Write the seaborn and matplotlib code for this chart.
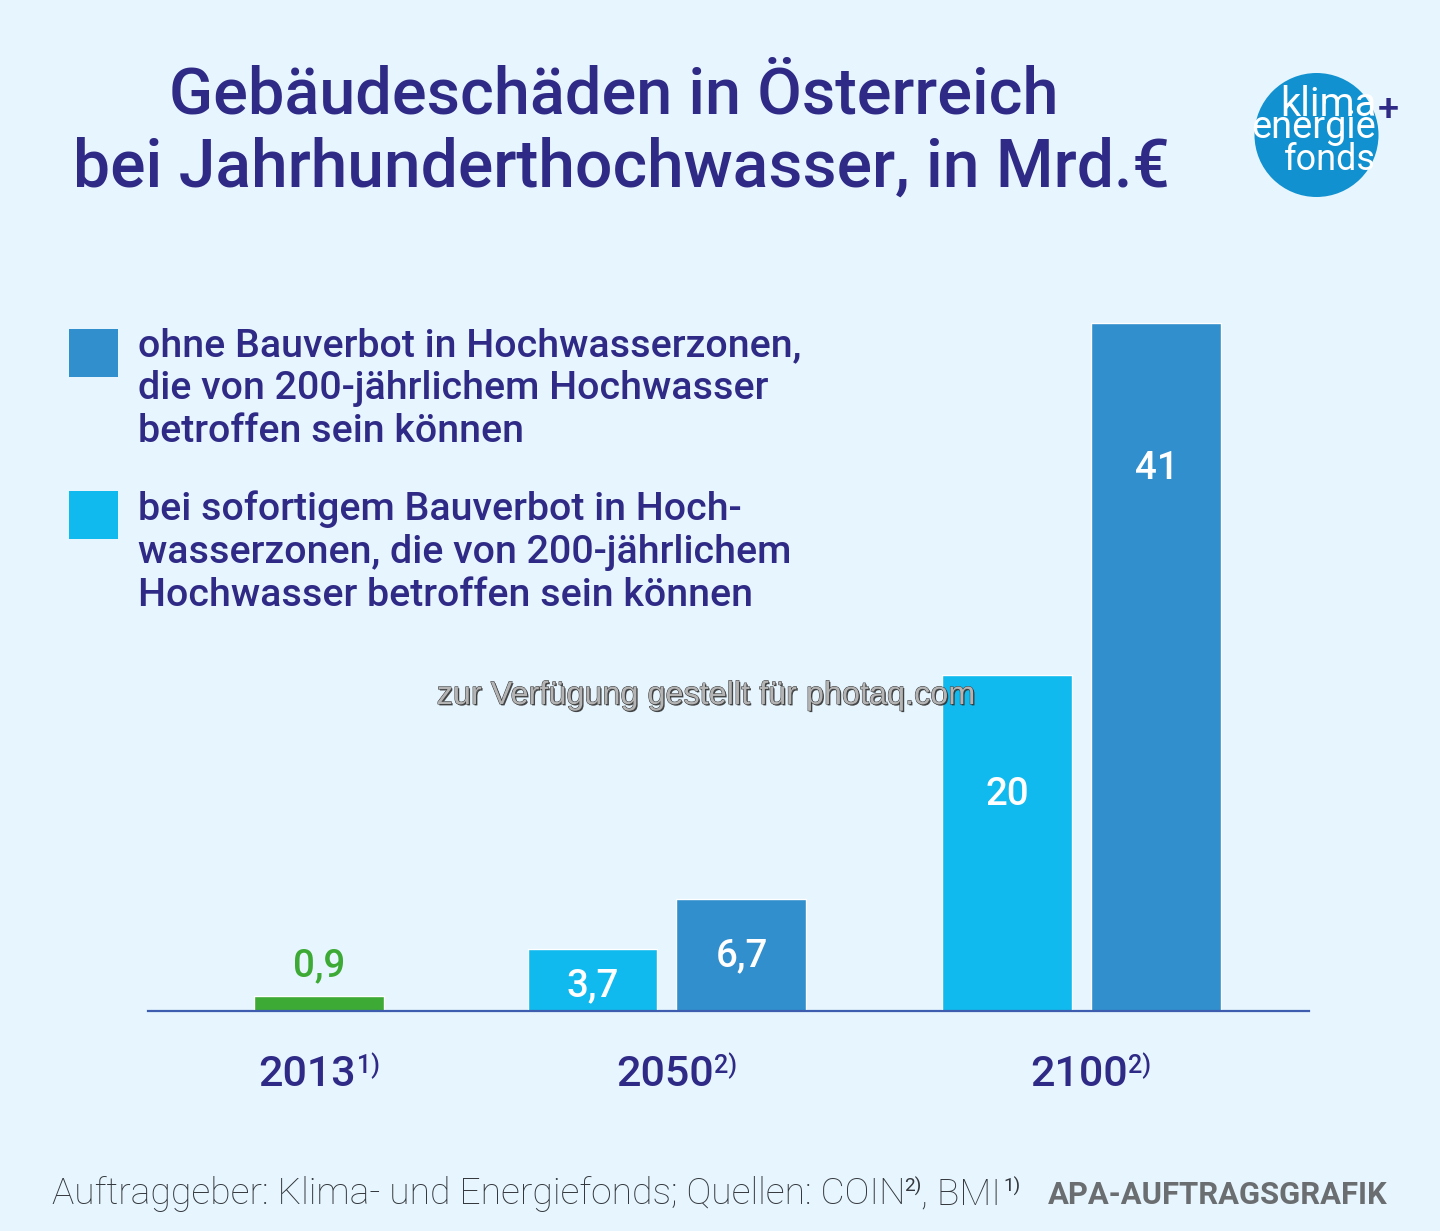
"""Gebaeudeschaeden bei Jahrhunderthochwasser, nach Jahr und Szenario."""

import matplotlib
matplotlib.use("Agg")
import matplotlib.patheffects as pe
import matplotlib.pyplot as plt
import pandas as pd
import seaborn as sns
from matplotlib.patches import Circle, Rectangle

W, H = 1440, 1231

bar_years = ["2013", "2050", "2050", "2100", "2100"]
bar_series = ["ist", "sofort", "ohne", "sofort", "ohne"]
bar_values = [0.9, 3.7, 6.7, 20, 41]
bar_labels = ["0,9", "3,7", "6,7", "20", "41"]

year_labels = ["2013", "2050", "2100"]
year_notes = ["1)", "2)", "2)"]

legend_ohne = "ohne Bauverbot in Hochwasserzonen,\ndie von 200-jährlichem Hochwasser\nbetroffen sein können"
legend_sofort = "bei sofortigem Bauverbot in Hoch-\nwasserzonen, die von 200-jährlichem\nHochwasser betroffen sein können"

BG = "#E6F5FE"
NAVY = "#2F2A85"
AXIS = "#3F5DAE"
COLORS = {"ist": "#3CAA35", "sofort": "#10BAEE", "ohne": "#318FCE"}
FOOT = "#34383C"
FONT = "Roboto"

# layout in reference pixels
bar_x = [319.5, 593, 741.5, 1007.5, 1156.5]
label_py = [961.5, 981.5, 951.5, 790.5, 464]
year_px = [307, 665, 1079]
note_px = [369, 726, 1140]

sns.set_theme(style="white")
plt.rcParams["font.family"] = [FONT, "DejaVu Sans"]


def fx(px):
    return px / W


def fy(py):
    return 1 - py / H


def pt(px):
    return px * 0.72


df = pd.DataFrame({"pos": bar_x, "value": bar_values, "series": bar_series, "year": bar_years})

fig = plt.figure(figsize=(W / 100, H / 100), dpi=100, facecolor=BG)
ax = fig.add_axes([fx(148), fy(1011), (1309 - 148) / W, (1011 - 300) / H])
ax.set_facecolor("none")

sns.barplot(
    data=df, x="pos", y="value", hue="series", palette=COLORS, native_scale=True,
    dodge=False, width=129.5 / 149, saturation=1, legend=False, errorbar=None, ax=ax,
)
ax.set_xlim(148.5, 1309.5)
ax.set_ylim(0, (1011 - 300) / 16.78)
ax.set_xlabel("")
ax.set_ylabel("")
ax.set_yticks([])
ax.set_xticks(year_px, year_labels)
ax.tick_params(axis="x", length=0, pad=0, labelbottom=False)
sns.despine(ax=ax, left=True)
ax.spines["bottom"].set_color(AXIS)
ax.spines["bottom"].set_linewidth(1.6)

# year labels with footnote marks
for x, nx, year, note in zip(year_px, note_px, year_labels, year_notes):
    fig.text(fx(x), fy(1086), year, color=NAVY, fontsize=pt(43), fontweight="medium",
             ha="center", va="baseline")
    fig.text(fx(nx), fy(1073), note, color=NAVY, fontsize=pt(25), fontweight="medium",
             ha="center", va="baseline")

# values on the bars
for x, py, txt, series in zip(bar_x, label_py, bar_labels, bar_series):
    color = COLORS["ist"] if series == "ist" else "white"
    fig.text(fx(x), fy(py), txt, color=color, fontsize=pt(38.5), fontweight="medium",
             ha="center", va="center_baseline")

# title
fig.text(fx(614), fy(114), "Gebäudeschäden in Österreich", color=NAVY, fontsize=pt(64.8),
         fontweight="medium", ha="center", va="baseline")
fig.text(fx(621), fy(187), "bei Jahrhunderthochwasser, in Mrd.€", color=NAVY, fontsize=pt(66),
         fontweight="medium", ha="center", va="baseline")

# legend
for top, color, label, base in [
    (329, COLORS["ohne"], legend_ohne, 356),
    (491, COLORS["sofort"], legend_sofort, 520),
]:
    fig.add_artist(Rectangle((fx(69), fy(top + 48)), 49 / W, 48 / H, transform=fig.transFigure,
                             facecolor=color, edgecolor="none"))
    for i, line in enumerate(label.split("\n")):
        fig.text(fx(138), fy(base + i * 43), line, color=NAVY, fontsize=pt(39.4),
                 fontweight="medium", ha="left", va="baseline")

# logo
fig.add_artist(Circle((1316.5, H - 135), 62, transform=None, facecolor="#1191D0", edgecolor="none"))
fig.text(fx(1328), fy(116), "klima", color="white", fontsize=pt(40), ha="center", va="baseline")
fig.text(fx(1314), fy(138), "energie", color="white", fontsize=pt(38), ha="center", va="baseline")
fig.text(fx(1330), fy(170), "fonds", color="white", fontsize=pt(36), ha="center", va="baseline")
fig.text(fx(1388), fy(107), "+", color=NAVY, fontsize=pt(38), fontweight="medium",
         ha="center", va="center_baseline")

# watermark, grey fill with dark rim and shadow
wm = fig.text(fx(706), fy(704), "zur Verfügung gestellt für photaq.com", color="#B4B4B4",
              fontsize=pt(32.4), family="Liberation Sans", ha="center", va="baseline")
wm.set_path_effects([
    pe.withSimplePatchShadow(offset=(1, -1), shadow_rgbFace="#333333", alpha=0.9),
    pe.Stroke(linewidth=0.7, foreground="#3A3A3A"),
    pe.Normal(),
])

# footer
fig.text(fx(52), fy(1204), "Auftraggeber: Klima- und Energiefonds; Quellen: COIN", color=FOOT,
         fontsize=pt(37.3), fontweight="light", ha="left", va="baseline")
fig.text(fx(913), fy(1192), "2)", color=FOOT, fontsize=pt(19), ha="center", va="baseline")
fig.text(fx(921), fy(1204), ", BMI", color=FOOT, fontsize=pt(37.3), fontweight="light",
         ha="left", va="baseline")
fig.text(fx(1012), fy(1192), "1)", color=FOOT, fontsize=pt(19), ha="center", va="baseline")
fig.text(fx(1218), fy(1204), "APA-AUFTRAGSGRAFIK", color="#6B6E70", fontsize=pt(31),
         fontweight="bold", ha="center", va="baseline")

fig.savefig("out.png", dpi=100, facecolor=BG)
